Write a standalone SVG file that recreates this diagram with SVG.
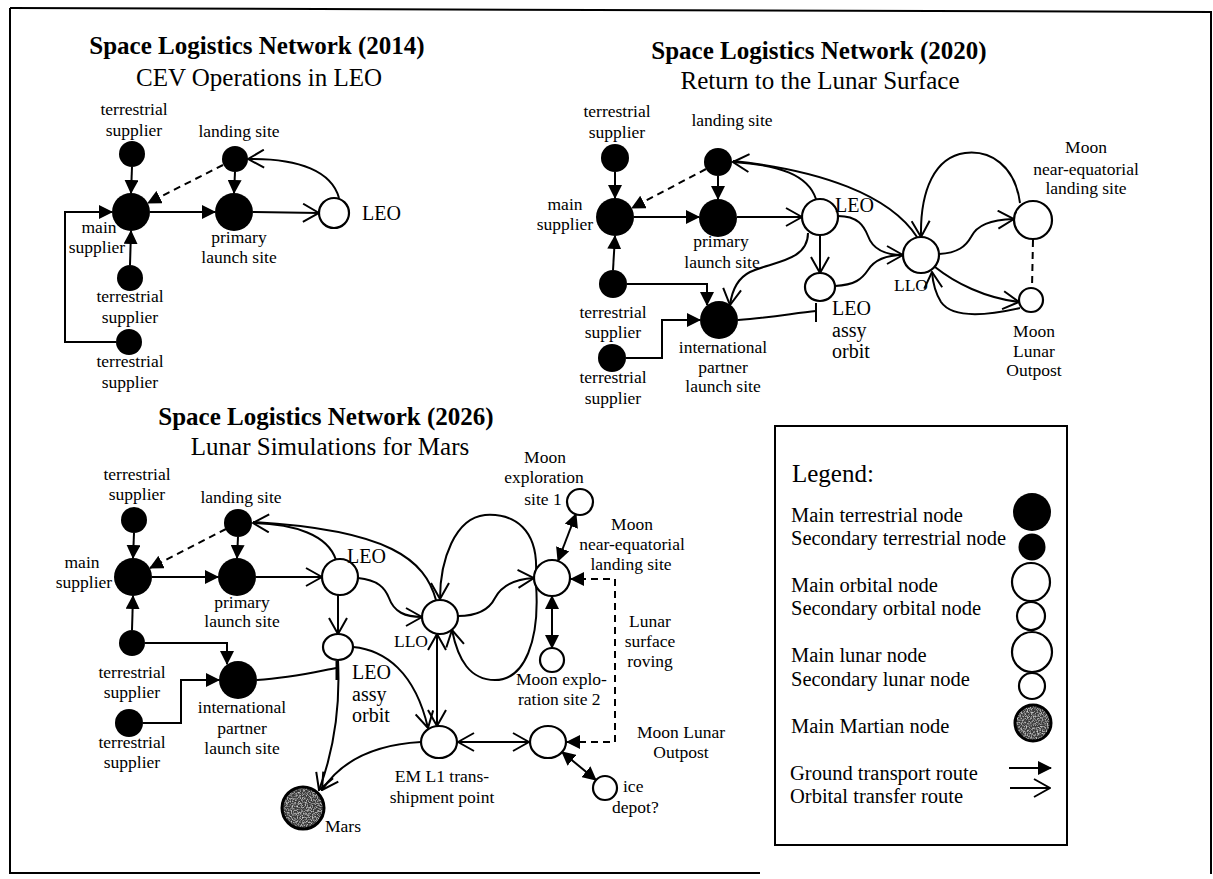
<svg xmlns="http://www.w3.org/2000/svg" width="1213" height="879" viewBox="0 0 1213 879">
<style>
.ln{fill:none;stroke:#000;stroke-width:2}
.dash{stroke-dasharray:7 5}
.tn{fill:#000}
.on{fill:#fff;stroke:#000;stroke-width:2.2}
.mfill{fill:#3a3a3a;filter:url(#speck)}
.mring{fill:none;stroke:#000;stroke-width:3}
text{font-family:"Liberation Serif","Times New Roman",serif;fill:#000}
.t1{font-size:25px;font-weight:bold;text-anchor:middle}
.t2{font-size:25px;text-anchor:middle}
.lb{font-size:17.5px}
.c{text-anchor:middle}
.e{text-anchor:end}
.leo{font-size:20px}
.lg{font-size:20.5px}
.fa{marker-end:url(#fa)}
.oa{marker-end:url(#oa)}
.fa2{marker-start:url(#fa);marker-end:url(#fa)}
.oa2{marker-start:url(#oa);marker-end:url(#oa)}
</style>
<defs>
<marker id="fa" viewBox="0 0 14 14" refX="13" refY="7" markerWidth="14" markerHeight="14" markerUnits="userSpaceOnUse" orient="auto-start-reverse"><path d="M0,0 L14,7 L0,14 z" fill="#000"/></marker>
<marker id="oa" viewBox="0 0 18 20" refX="17" refY="10" markerWidth="18" markerHeight="20" markerUnits="userSpaceOnUse" orient="auto-start-reverse"><path d="M1,1 L17,10 L1,19" fill="none" stroke="#000" stroke-width="2"/></marker>
<filter id="speck" x="0" y="0" width="1" height="1">
<feTurbulence type="fractalNoise" baseFrequency="0.8" numOctaves="2" seed="3" result="n"/>
<feColorMatrix in="n" type="matrix" values="0 0 0 0 0.75  0 0 0 0 0.75  0 0 0 0 0.75  0 0 0 2.2 -1.0" result="s"/>
<feComposite in="s" in2="SourceGraphic" operator="in" result="sp"/>
<feMerge><feMergeNode in="SourceGraphic"/><feMergeNode in="sp"/></feMerge>
</filter>
</defs>
<rect width="1213" height="879" fill="#fff"/>
<g id="border" class="ln">
<path d="M10,8 L1211,12 L1211,874"/>
<path d="M10,8 L10,873 L760,873"/>
</g>

<g id="titles">
<text class="t1" x="257" y="54">Space Logistics Network (2014)</text>
<text class="t2" x="259" y="86">CEV Operations in LEO</text>
<text class="t1" x="819" y="59">Space Logistics Network (2020)</text>
<text class="t2" x="820" y="89">Return to the Lunar Surface</text>
<text class="t1" x="326" y="425">Space Logistics Network (2026)</text>
<text class="t2" x="330" y="455">Lunar Simulations for Mars</text>
</g>

<g id="connectors">
<!-- 2014 -->
<path class="ln fa" d="M132,167 L131,193"/>
<path class="ln fa" d="M235,172 L234,193"/>
<path class="ln dash fa" d="M223,165 L148,203"/>
<path class="ln fa" d="M150,212 L215,212"/>
<path class="ln oa" d="M253,212 L319,213"/>
<path class="ln oa" d="M339,198 C332,172 300,158 248,159"/>
<path class="ln fa" d="M130,265 L131,231"/>
<path class="ln fa" d="M116,342 L65,342 L65,212 L112,212"/>
<!-- 2020 -->
<path class="ln fa" d="M615,172 L615,198"/>
<path class="ln fa" d="M718,176 L718,199"/>
<path class="ln dash fa" d="M706,169 L632,208"/>
<path class="ln fa" d="M634,217 L699,217"/>
<path class="ln oa" d="M737,217 L802,217"/>
<path class="ln fa" d="M613,270 L615,236"/>
<path class="ln fa" d="M627,284 L707,284 L707,305"/>
<path class="ln fa" d="M626,358 L662,358 L662,320 L700,320"/>
<path class="ln oa" d="M816,199 C808,175 780,165 733,162"/>
<path class="ln" d="M917,237 C890,195 820,170 733,161"/>
<path class="ln oa" d="M1020,203 C1015,165 990,150 965,153 C935,157 920,190 921,237"/>
<path class="ln oa" d="M838,216 C858,216 864,226 868,236 C873,250 885,255 903,255"/>
<path class="ln" d="M835,286 C855,285 862,279 868,270 C875,259 887,255 903,255"/>
<path class="ln oa" d="M820,235 L820,273"/>
<path class="ln oa" d="M808,233 C808,262 770,262 750,272 C738,278 732,290 730,305"/>
<path class="ln" d="M738,320 C770,318 795,313 816,311"/>
<path class="ln" d="M816,303 L816,322"/>
<path class="ln oa" d="M939,254 C958,253 966,246 971,237 C977,225 990,220 1014,219"/>
<path class="ln oa" d="M935,267 C955,283 985,298 1019,302"/>
<path class="ln oa" d="M1020,308 C985,316 952,318 941,302 C936,294 933,285 932,272"/>
<path class="ln dash" d="M1033,240 L1032,288"/>
<!-- 2026 -->
<path class="ln fa" d="M134,533 L133,558"/>
<path class="ln fa" d="M238,537 L237,558"/>
<path class="ln dash fa" d="M226,529 L150,568"/>
<path class="ln fa" d="M152,577 L218,577"/>
<path class="ln oa" d="M256,577 L322,577"/>
<path class="ln fa" d="M132,630 L133,596"/>
<path class="ln fa" d="M145,643 L227,643 L227,664"/>
<path class="ln fa" d="M143,723 L181,723 L181,680 L219,680"/>
<path class="ln oa" d="M336,560 C328,535 295,524 253,523"/>
<path class="ln" d="M436,600 C425,560 390,530 253,522"/>
<path class="ln oa" d="M536,572 C538,530 515,513 485,515 C455,518 440,560 440,599"/>
<path class="ln oa" d="M536,584 C540,640 525,680 495,680 C470,680 458,660 452,630"/>
<path class="ln oa" d="M358,578 C378,580 385,588 389,598 C394,612 405,617 422,617"/>
<path class="ln oa" d="M458,616 C480,616 490,608 495,598 C502,585 515,579 534,578"/>
<path class="ln oa" d="M338,595 L338,634"/>
<path class="ln oa2" d="M437,634 L437,726"/>
<path class="ln oa" d="M353,647 C385,650 415,672 428,728"/>
<path class="ln" d="M257,680 C290,678 315,672 336,668"/>
<path class="ln" style="stroke-width:3" d="M337,661 L337,680"/>
<path class="ln oa" d="M338,660 C340,700 336,745 319,790"/>
<path class="ln oa" d="M421,742 C385,744 345,755 322,790"/>
<path class="ln oa2" d="M458,742 L529,742"/>
<path class="ln fa2" d="M576,514 L558,561"/>
<path class="ln fa2" d="M552,596 L552,648"/>
<path class="ln dash fa2" d="M567,742 L615,742 L615,579 L571,579"/>
<path class="ln fa2" d="M562,752 L596,780"/>
</g>

<!-- 2014 nodes -->
<g id="n14-ts1"><circle class="tn" cx="132" cy="154" r="13"/><text class="lb c" x="134" y="115">terrestrial</text><text class="lb c" x="134" y="136">supplier</text></g>
<g id="n14-ls"><circle class="tn" cx="235" cy="159" r="13"/><text class="lb c" x="239" y="137">landing site</text></g>
<g id="n14-ms"><circle class="tn" cx="131" cy="212" r="19"/><text class="lb c" x="99" y="233">main</text><text class="lb c" x="97" y="253">supplier</text></g>
<g id="n14-pl"><circle class="tn" cx="234" cy="212" r="19"/><text class="lb c" x="239" y="243">primary</text><text class="lb c" x="239" y="263">launch site</text></g>
<g id="n14-leo"><circle class="on" cx="334" cy="213" r="15"/><text class="leo" x="362" y="220">LEO</text></g>
<g id="n14-ts2"><circle class="tn" cx="130" cy="278" r="13"/><text class="lb c" x="130" y="302">terrestrial</text><text class="lb c" x="130" y="323">supplier</text></g>
<g id="n14-ts3"><circle class="tn" cx="129" cy="342" r="13"/><text class="lb c" x="130" y="367">terrestrial</text><text class="lb c" x="130" y="388">supplier</text></g>

<!-- 2020 nodes -->
<g id="n20-ts1"><circle class="tn" cx="615" cy="158" r="14"/><text class="lb c" x="617" y="117">terrestrial</text><text class="lb c" x="617" y="138">supplier</text></g>
<g id="n20-ls"><circle class="tn" cx="718" cy="162" r="14"/><text class="lb c" x="732" y="126">landing site</text></g>
<g id="n20-ms"><circle class="tn" cx="615" cy="217" r="19"/><text class="lb c" x="565" y="210">main</text><text class="lb c" x="565" y="230">supplier</text></g>
<g id="n20-pl"><circle class="tn" cx="718" cy="218" r="19"/><text class="lb c" x="721" y="247">primary</text><text class="lb c" x="722" y="268">launch site</text></g>
<g id="n20-leo"><circle class="on" cx="820" cy="217" r="18"/><text class="leo" x="835" y="212">LEO</text></g>
<g id="n20-la"><ellipse class="on" cx="820" cy="287" rx="15" ry="14"/><text class="leo" x="832" y="315">LEO</text><text class="leo" x="832" y="337">assy</text><text class="leo" x="832" y="358">orbit</text></g>
<g id="n20-ts2"><circle class="tn" cx="613" cy="284" r="14"/><text class="lb c" x="613" y="318">terrestrial</text><text class="lb c" x="613" y="338">supplier</text></g>
<g id="n20-ip"><circle class="tn" cx="719" cy="320" r="19"/><text class="lb c" x="723" y="353">international</text><text class="lb c" x="723" y="373">partner</text><text class="lb c" x="723" y="392">launch site</text></g>
<g id="n20-ts3"><circle class="tn" cx="612" cy="358" r="14"/><text class="lb c" x="613" y="383">terrestrial</text><text class="lb c" x="613" y="404">supplier</text></g>
<g id="n20-llo"><circle class="on" cx="921" cy="255" r="18"/><text class="lb e" x="928" y="291">LLO</text></g>
<g id="n20-ne"><circle class="on" cx="1033" cy="220" r="19"/><text class="lb c" x="1086" y="153">Moon</text><text class="lb c" x="1086" y="175">near-equatorial</text><text class="lb c" x="1086" y="194">landing site</text></g>
<g id="n20-lo"><circle class="on" cx="1031" cy="300" r="12"/><text class="lb c" x="1034" y="337">Moon</text><text class="lb c" x="1034" y="357">Lunar</text><text class="lb c" x="1034" y="376">Outpost</text></g>

<!-- 2026 nodes -->
<g id="n26-ts1"><circle class="tn" cx="134" cy="520" r="13"/><text class="lb c" x="137" y="480">terrestrial</text><text class="lb c" x="137" y="500">supplier</text></g>
<g id="n26-ls"><circle class="tn" cx="238" cy="523" r="14"/><text class="lb c" x="241" y="503">landing site</text></g>
<g id="n26-ms"><circle class="tn" cx="133" cy="577" r="19"/><text class="lb c" x="82" y="568">main</text><text class="lb c" x="84" y="588">supplier</text></g>
<g id="n26-pl"><circle class="tn" cx="237" cy="577" r="19"/><text class="lb c" x="242" y="608">primary</text><text class="lb c" x="242" y="627">launch site</text></g>
<g id="n26-leo"><circle class="on" cx="340" cy="577" r="18"/><text class="leo" x="347" y="563">LEO</text></g>
<g id="n26-la"><ellipse class="on" cx="338" cy="647" rx="15" ry="13"/><text class="leo" x="352" y="679">LEO</text><text class="leo" x="352" y="701">assy</text><text class="leo" x="352" y="722">orbit</text></g>
<g id="n26-ts2"><circle class="tn" cx="132" cy="643" r="13"/><text class="lb c" x="132" y="678">terrestrial</text><text class="lb c" x="132" y="698">supplier</text></g>
<g id="n26-ip"><circle class="tn" cx="238" cy="680" r="19"/><text class="lb c" x="242" y="713">international</text><text class="lb c" x="242" y="734">partner</text><text class="lb c" x="242" y="754">launch site</text></g>
<g id="n26-ts3"><circle class="tn" cx="129" cy="723" r="14"/><text class="lb c" x="132" y="748">terrestrial</text><text class="lb c" x="132" y="768">supplier</text></g>
<g id="n26-mars"><circle class="mfill" cx="303" cy="808" r="21"/><circle class="mring" cx="303" cy="808" r="21"/><text class="lb" x="325" y="832">Mars</text></g>
<g id="n26-llo"><ellipse class="on" cx="440" cy="617" rx="18" ry="17"/><text class="lb e" x="428" y="647">LLO</text></g>
<g id="n26-ne"><circle class="on" cx="552" cy="578" r="18"/><text class="lb c" x="632" y="530">Moon</text><text class="lb c" x="632" y="550">near-equatorial</text><text class="lb c" x="631" y="570">landing site</text></g>
<g id="n26-s1"><circle class="on" cx="580" cy="502" r="13"/><text class="lb c" x="545" y="463">Moon</text><text class="lb c" x="544" y="483">exploration</text><text class="lb c" x="543" y="505">site 1</text></g>
<g id="n26-s2"><circle class="on" cx="552" cy="660" r="12"/><text class="lb" x="516" y="685">Moon explo-</text><text class="lb" x="518" y="705">ration site 2</text></g>
<g id="n26-roving"><text class="lb c" x="650" y="627">Lunar</text><text class="lb c" x="650" y="647">surface</text><text class="lb c" x="650" y="667">roving</text></g>
<g id="n26-em"><ellipse class="on" cx="439" cy="742" rx="18" ry="16"/><text class="lb c" x="442" y="782">EM L1 trans-</text><text class="lb c" x="442" y="803">shipment point</text></g>
<g id="n26-lo"><ellipse class="on" cx="548" cy="742" rx="18" ry="16"/><text class="lb c" x="681" y="738">Moon Lunar</text><text class="lb c" x="681" y="758">Outpost</text></g>
<g id="n26-ice"><circle class="on" cx="605" cy="788" r="12"/><text class="lb" x="623" y="792">ice</text><text class="lb" x="612" y="813">depot?</text></g>

<!-- Legend -->
<g id="legend">
<rect x="775" y="426" width="292" height="419" fill="none" stroke="#000" stroke-width="2"/>
<text x="792" y="482" style="font-size:25px">Legend:</text>
<text class="lg" x="791" y="522">Main terrestrial node</text>
<text class="lg" x="791" y="545">Secondary terrestrial node</text>
<circle class="tn" cx="1032" cy="512" r="19"/>
<circle class="tn" cx="1032" cy="547" r="13.5"/>
<text class="lg" x="791" y="592">Main orbital node</text>
<text class="lg" x="791" y="615">Secondary orbital node</text>
<circle class="on" cx="1031" cy="582" r="19"/>
<circle class="on" cx="1031" cy="616" r="14"/>
<text class="lg" x="791" y="662">Main lunar node</text>
<text class="lg" x="791" y="686">Secondary lunar node</text>
<circle class="on" cx="1032" cy="652" r="20"/>
<circle class="on" cx="1032" cy="686" r="13"/>
<text class="lg" x="791" y="733">Main Martian node</text>
<circle class="mfill" cx="1033" cy="723" r="18"/>
<circle class="mring" cx="1033" cy="723" r="18"/>
<text class="lg" x="790" y="780">Ground transport route</text>
<text class="lg" x="790" y="803">Orbital transfer route</text>
<path class="ln fa" d="M1009,768 L1051,768"/>
<path class="ln oa" d="M1010,788 L1050,788"/>
</g>
</svg>
